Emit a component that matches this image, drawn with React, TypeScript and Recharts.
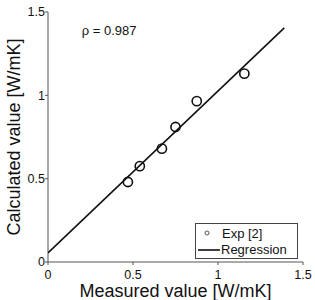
import { Label, ReferenceDot, Scatter, ScatterChart, XAxis, YAxis } from "recharts";

const measured = [0.47, 0.54, 0.67, 0.75, 0.875, 1.155];
const calculated = [0.48, 0.575, 0.68, 0.81, 0.965, 1.13];
const regressionX = [0, 1.39];
const regressionY = [0.055, 1.405];
const axisTicks = [0, 0.5, 1, 1.5];

const points = measured.map((x, i) => ({ x, y: calculated[i] }));
const regression = regressionX.map((x, i) => ({ x, y: regressionY[i] }));

const FONT = "'Liberation Sans', Arial, sans-serif";
const INK = "#111";

function fmt(v: number): string {
  return String(v);
}

function Ring(props: any) {
  const { cx, cy } = props;
  if (cx == null || cy == null) return null;
  return <circle cx={cx} cy={cy} r={4.6} fill="none" stroke={INK} strokeWidth={1.6} />;
}

function LegendBox() {
  return (
    <div
      style={{
        position: "absolute",
        left: 195,
        top: 223,
        width: 103,
        height: 36,
        border: "1px solid #444",
        background: "#fff",
        fontFamily: FONT,
        fontSize: 13,
        color: INK,
        boxSizing: "border-box",
      }}
    >
      <svg width={30} height={34} style={{ position: "absolute", left: 0, top: 0 }}>
        <circle cx={11} cy={9} r={2} fill="none" stroke="#555" strokeWidth={1} />
        <line x1={2} x2={24} y1={26} y2={26} stroke={INK} strokeWidth={1.6} />
      </svg>
      <div style={{ position: "absolute", left: 26, top: 2, lineHeight: "15px" }}>Exp [2]</div>
      <div style={{ position: "absolute", left: 25, top: 18, lineHeight: "15px" }}>Regression</div>
    </div>
  );
}

export default function App() {
  return (
    <div style={{ position: "absolute", left: 0, top: 0, width: 315, height: 300, background: "#fff" }}>
      <ScatterChart width={315} height={300} margin={{ top: 12, right: 12, bottom: 0, left: 0 }}>
        <XAxis
          type="number"
          dataKey="x"
          domain={[0, 1.5]}
          ticks={axisTicks}
          tickFormatter={fmt}
          allowDataOverflow
          height={38}
          stroke="#555"
          tickSize={3}
          tickMargin={5}
          tick={{ fill: INK, fontSize: 12.5, fontFamily: FONT }}
        >
          <Label
            value="Measured value [W/mK]"
            position="insideBottom"
            offset={3}
            style={{ fill: INK, fontSize: 18, fontFamily: FONT }}
          />
        </XAxis>
        <YAxis
          type="number"
          dataKey="y"
          domain={[0, 1.5]}
          ticks={axisTicks}
          tickFormatter={fmt}
          allowDataOverflow
          width={48}
          stroke="#555"
          tickSize={3}
          tickMargin={0}
          tick={{ fill: INK, fontSize: 12.5, fontFamily: FONT }}
        >
          <Label
            value="Calculated value [W/mK]"
            angle={-90}
            position="insideLeft"
            offset={0}
            dx={14}
            style={{ fill: INK, fontSize: 18, fontFamily: FONT, textAnchor: "middle" }}
          />
        </YAxis>
        <ReferenceDot x={0.36} y={1.39} r={0} fill="none" stroke="none">
          <Label value="ρ = 0.987" position="center" style={{ fill: INK, fontSize: 13, fontFamily: FONT }} />
        </ReferenceDot>
        <Scatter
          name="Regression"
          data={regression}
          line={{ stroke: INK, strokeWidth: 1.6 }}
          shape={() => null}
          isAnimationActive={false}
        />
        <Scatter name="Exp [2]" data={points} shape={Ring} isAnimationActive={false} />
      </ScatterChart>
      <LegendBox />
    </div>
  );
}
